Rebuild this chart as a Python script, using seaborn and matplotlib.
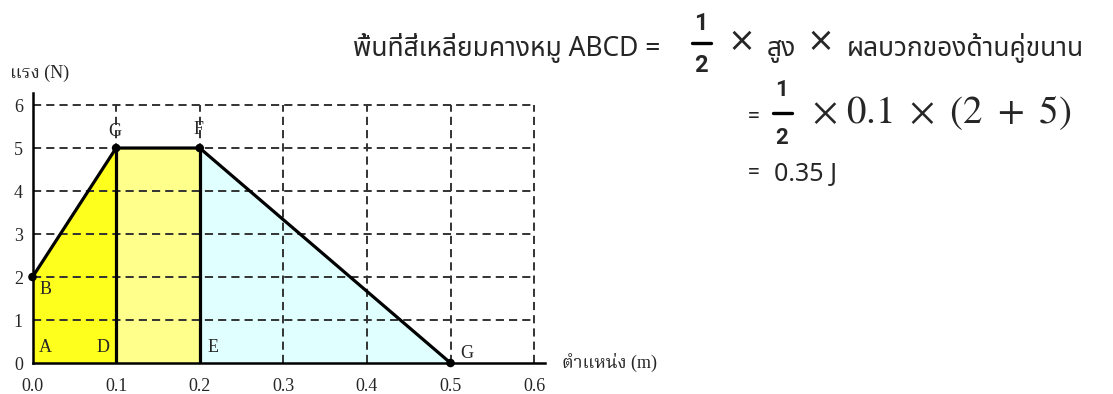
import matplotlib
matplotlib.use("Agg")
import matplotlib.pyplot as plt
import seaborn as sns
import pandas as pd
from matplotlib.lines import Line2D

# ---- data ----
position = [0.0, 0.1, 0.2, 0.5]
force = [2, 5, 5, 0]
x_ticks = [0.0, 0.1, 0.2, 0.3, 0.4, 0.5, 0.6]
y_ticks = [0, 1, 2, 3, 4, 5, 6]
point_names = ["B", "A", "D", "E", "G", "G", "F"]
point_x = [0.015, 0.015, 0.084, 0.216, 0.52, 0.099, 0.198]
point_y = [1.71, 0.35, 0.35, 0.35, 0.23, 5.39, 5.42]

SERIF = ["Liberation Serif", "Noto Serif Thai"]
THAI = ["Noto Sans Thai", "DejaVu Sans"]
BOLD = ["Roboto", "DejaVu Sans"]
W, H = 1113, 394


def fx(px):
    return px / W


def fy(py):
    return 1 - py / H


sns.set_style("white")
fig = plt.figure(figsize=(11.13, 3.94), dpi=100)
ax = fig.add_axes([fx(32.5), 31 / H, (545 - 32.5) / W, (363 - 93) / H])

df = pd.DataFrame({"x": position, "F": force})

# ---- shaded areas ----
ax.fill_between(position[:2], [0, 0], force[:2], color="#FFFF1E", lw=0, zorder=1)
ax.fill_between(position[1:3], [0, 0], force[1:3], color="#FFFF8C", lw=0, zorder=1)
ax.fill_between(position[2:], [0, 0], force[2:], color="#E0FFFF", lw=0, zorder=1)

# ---- dashed grid, only inside 0..0.6 / 0..6 ----
dash = (0, (4.2, 2.6))
ax.hlines(y_ticks[1:], 0, x_ticks[-1], colors="#333333", lw=1.4, linestyles=dash, zorder=2)
ax.vlines(x_ticks[1:], 0, y_ticks[-1], colors="#333333", lw=1.4, linestyles=dash, zorder=2)

# ---- outline and points ----
sns.lineplot(data=df, x="x", y="F", color="black", lw=2.3, ax=ax, zorder=4)
ax.vlines(position[1:3], 0, force[1:3], colors="black", lw=2.3, zorder=4)
sns.scatterplot(data=df, x="x", y="F", color="black", s=38, ax=ax, zorder=5,
                edgecolor="none", clip_on=False)

ax.set_xlim(0, 0.613)
ax.set_ylim(0, 6.28)
ax.set_xticks(x_ticks)
ax.set_yticks(y_ticks)
ax.set_xticklabels([f"{v:.1f}" for v in x_ticks], family=SERIF, fontsize=13)
ax.set_yticklabels([str(v) for v in y_ticks], family=SERIF, fontsize=13)
ax.tick_params(axis="x", length=0, pad=11)
ax.tick_params(axis="y", length=0, pad=7)
ax.set_xlabel("")
ax.set_ylabel("")
for s in ["top", "right"]:
    ax.spines[s].set_visible(False)
for s in ["left", "bottom"]:
    ax.spines[s].set_color("black")
    ax.spines[s].set_linewidth(1.8)

for t, x, y in zip(point_names, point_x, point_y):
    ax.text(x, y, t, family=SERIF, fontsize=13, ha="center", va="center", zorder=6)

fig.text(fx(10), fy(73), "แรง (N)", family=SERIF, fontsize=13, va="center")
fig.text(fx(562), fy(362), "ตำแหน่ง (m)", family=SERIF, fontsize=13, va="center")

# ---- formula text on the right ----
# line 1
fig.text(fx(660), fy(56), "พื้นที่สี่เหลี่ยมคางหมู ABCD =", family=THAI, fontsize=19,
         ha="right", va="baseline")
fig.text(fx(701), fy(24), "1", family=BOLD, fontweight="bold", fontsize=17,
         ha="center", va="center")
fig.text(fx(701), fy(65), "2", family=BOLD, fontweight="bold", fontsize=17,
         ha="center", va="center")
fig.add_artist(Line2D([fx(692), fx(711)], [fy(43), fy(43)], color="black", lw=2.4))
fig.text(fx(741), fy(42), "×", family=["DejaVu Sans"], fontsize=24, ha="center", va="center")
fig.text(fx(781), fy(56), "สูง", family=THAI, fontsize=19, ha="center", va="baseline")
fig.text(fx(820), fy(42), "×", family=["DejaVu Sans"], fontsize=24, ha="center", va="center")
fig.text(fx(847), fy(56), "ผลบวกของด้านคู่ขนาน", family=THAI, fontsize=19,
         ha="left", va="baseline")

# line 2
fig.text(fx(748), fy(118), "=", family=THAI, fontsize=15, ha="left", va="center")
fig.text(fx(782), fy(90), "1", family=BOLD, fontweight="bold", fontsize=16,
         ha="center", va="center")
fig.text(fx(782), fy(138), "2", family=BOLD, fontweight="bold", fontsize=16,
         ha="center", va="center")
fig.add_artist(Line2D([fx(773), fx(792)], [fy(113), fy(113)], color="black", lw=2.4))
fig.text(fx(812), fy(113), r"$\times\ 0.1\ \times\ (2\ +\ 5)$", math_fontfamily="stix",
         fontsize=28, ha="left", va="center")

# line 3
fig.text(fx(748), fy(174), "=", family=THAI, fontsize=15, ha="left", va="center")
fig.text(fx(774), fy(174), "0.35 J", family=THAI, fontsize=18, ha="left", va="center")

fig.savefig("out.png")
